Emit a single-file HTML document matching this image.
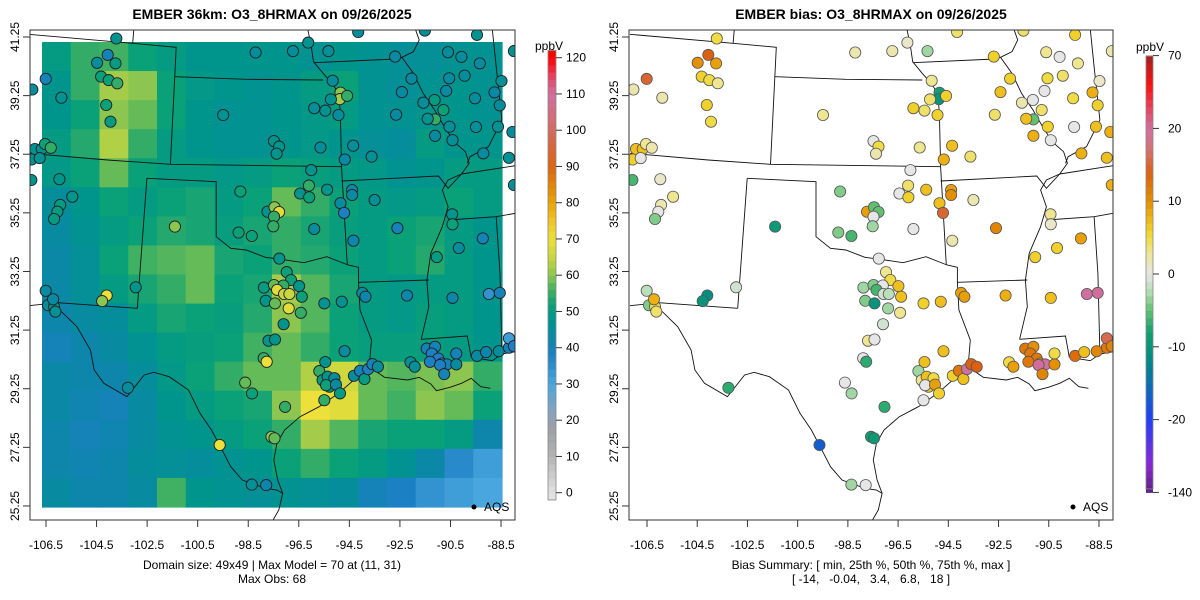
<!DOCTYPE html>
<html><head><meta charset="utf-8"><style>
html,body{margin:0;padding:0;background:#fff;}
svg{display:block;font-family:"Liberation Sans",Arial,sans-serif;}
</style></head><body>
<svg id="chart" width="1200" height="600" viewBox="0 0 1200 600" xmlns="http://www.w3.org/2000/svg">
<defs>
<clipPath id="clipL"><rect x="30" y="30" width="485" height="490"/></clipPath>
<clipPath id="clipR"><rect x="629" y="30" width="484" height="490"/></clipPath>
</defs>
<rect width="1200" height="600" fill="#fff"/>
<text x="272" y="19" text-anchor="middle" font-size="14" font-weight="bold">EMBER 36km: O3_8HRMAX on 09/26/2025</text>
<text x="871" y="19" text-anchor="middle" font-size="14" font-weight="bold">EMBER bias: O3_8HRMAX on 09/26/2025</text>
<g id="gridL" clip-path="url(#clipL)"></g>
<g id="bndL" clip-path="url(#clipL)" fill="none" stroke="#111" stroke-width="0.9"></g>
<g id="bndR" clip-path="url(#clipR)" fill="none" stroke="#111" stroke-width="0.9"></g>
<g id="stL" clip-path="url(#clipL)"></g>
<g id="stR" clip-path="url(#clipR)"></g>
<rect x="30" y="30" width="485" height="490" fill="none" stroke="#333" stroke-width="1"/>
<rect x="629" y="30" width="484" height="490" fill="none" stroke="#333" stroke-width="1"/>
<g id="axes" font-size="12" fill="#000"></g>
<g id="cbL"></g>
<g id="cbR"></g>
<g><circle cx="474" cy="507" r="2.5" fill="#000"/><text x="484" y="511" font-size="12">AQS</text></g>
<g><circle cx="1073" cy="507" r="2.5" fill="#000"/><text x="1083" y="511" font-size="12">AQS</text></g>
<text x="272" y="569" text-anchor="middle" font-size="12">Domain size: 49x49 | Max Model = 70 at (11, 31)</text>
<text x="272" y="583" text-anchor="middle" font-size="12">Max Obs: 68</text>
<text x="871" y="569" text-anchor="middle" font-size="12">Bias Summary: [ min, 25th %, 50th %, 75th %, max ]</text>
<text x="871" y="583" text-anchor="middle" font-size="12" xml:space="preserve">[ -14,   -0.04,   3.4,   6.8,   18 ]</text>
</svg>
<script>
const NS="http://www.w3.org/2000/svg";
const lonTicks=[-106.5,-104.5,-102.5,-100.5,-98.5,-96.5,-94.5,-92.5,-90.5,-88.5];
const latTicks=[41.25,39.25,37.25,35.25,33.25,31.25,29.25,27.25,25.25];
const modelTicks=[0,10,20,30,40,50,60,70,80,90,100,110,120];
const biasTicks=[-140,-20,-10,0,10,20,70];
// model grid (rows north->south, cols west->east), ppbV
const modelGrid=[
[50,55,56,52,50,48,48,48,48,47,48,47,46,46,47,47],
[48,55,62,60,52,49,48,47,48,50,52,47,46,47,48,47],
[48,52,60,58,52,48,47,47,48,49,50,47,47,48,48,47],
[50,54,63,55,50,48,47,47,48,49,48,46,45,50,48,48],
[49,52,58,52,50,50,49,50,52,51,50,49,47,48,50,50],
[45,48,52,50,52,53,50,52,58,55,52,50,49,50,52,50],
[44,47,50,52,54,53,51,53,55,53,51,50,52,53,50,48],
[43,46,52,56,57,58,53,52,55,54,52,50,52,54,50,48],
[43,46,50,53,55,58,52,53,62,57,53,50,49,50,50,48],
[42,44,45,50,53,52,51,54,60,57,52,50,49,51,50,48],
[40,42,44,47,50,51,52,56,58,55,52,51,51,51,50,48],
[43,42,42,45,49,52,55,58,58,63,66,58,57,59,60,55],
[43,41,40,44,48,50,52,53,60,70,68,58,56,60,58,52],
[42,40,41,44,47,48,50,52,55,62,57,53,52,52,50,42],
[42,41,42,45,46,45,47,48,52,55,52,50,47,43,36,32],
[44,42,42,44,56,48,47,46,47,46,45,40,38,34,32,30]];
const stationLon=[
-103.72,-98.21,-96.73,-96.13,-95.33,-94.15,-92.69,-91.51,-89.45,-90.60,-90.07,-89.34,-88.48,-87.99,
-106.51,-107.04,-105.89,-104.48,-104.06,-103.75,-104.32,-104.02,-103.68,-104.12,-103.95,
-99.49,-95.89,-95.45,-94.93,-95.16,-94.85,-94.88,-94.59,-95.23,-92.04,-92.42,-92.65,-90.55,-89.94,-90.67,-89.53,-88.76,-88.55,-91.57,-91.13,-90.78,-91.11,-91.40,-90.54,-89.49,-88.62,-88.05,-91.11,-90.42,
-106.94,-106.67,-106.54,-106.31,-107.07,-106.75,-107.08,-105.97,-105.46,-105.94,-106.05,-106.18,
-97.48,-97.28,-97.38,-95.64,-94.68,-94.35,-93.62,-89.20,-88.19,-87.99,
-96.01,-98.81,-96.45,-96.10,-96.09,-95.38,-94.39,-94.39,-94.85,-94.71,-93.50,-97.74,-97.46,-97.28,-97.48,-97.51,-95.89,-98.88,-98.36,-101.40,-94.34,-92.60,-90.43,-90.42,-89.22,-90.17,-91.04,-97.27,
-96.98,-96.81,-96.49,-96.38,-97.88,-97.48,-97.11,-97.36,-97.08,-96.87,-97.81,-97.44,-96.90,-96.42,-97.10,-95.49,-94.80,-93.99,-93.86,-92.22,-90.42,-88.98,-88.55,
-106.51,-104.10,-104.28,-102.95,-106.42,-106.18,-106.13,-106.22,
-97.70,-97.44,-97.89,-97.77,-94.69,-95.45,-92.08,-91.91,-91.44,-91.11,-91.24,-90.98,-91.31,-90.84,-90.64,-90.91,-90.27,-90.27,-90.75,-89.45,-89.09,-88.59,-88.19,-88.19,-87.99,
-95.69,-95.56,-95.36,-95.09,-95.29,-95.42,-95.03,-94.87,-95.49,-94.32,-94.08,-93.90,-93.76,-93.59,-93.37,
-98.62,-98.35,-103.26,-97.04,-97.58,-97.46,-99.63,-98.36,-97.79];
const stationLat=[
41.20,40.72,40.77,41.06,40.77,41.42,40.58,41.47,41.32,40.73,40.57,40.35,39.75,40.77,
39.82,39.46,39.18,40.37,40.64,40.35,39.90,39.78,39.67,38.93,38.36,
38.59,38.82,38.74,38.59,39.76,39.35,39.13,39.24,39.12,39.83,39.37,38.60,39.84,39.93,39.41,39.16,39.36,38.92,39.01,39.10,38.76,38.44,38.46,38.19,38.18,38.19,38.01,37.88,37.73,
37.43,37.43,37.60,37.47,37.07,37.12,36.37,36.40,35.80,35.52,35.29,35.04,
37.70,37.51,37.27,37.48,37.07,37.54,37.17,37.28,37.13,36.20,
36.71,35.98,35.91,36.18,35.78,36.04,36.03,35.86,35.58,35.25,35.69,35.29,35.44,35.28,35.12,34.79,34.70,34.58,34.46,34.78,34.30,34.73,35.20,34.86,34.38,34.05,33.74,33.69,
33.23,32.96,32.75,32.39,32.70,32.79,32.77,32.62,32.48,32.48,32.25,32.16,31.99,31.84,31.45,32.16,32.22,32.52,32.39,32.43,32.35,32.48,32.52,
32.59,32.43,32.24,32.71,32.10,32.05,31.88,32.30,
30.89,30.93,30.29,30.17,30.53,30.16,30.15,30.00,30.62,30.68,30.45,30.28,30.17,30.11,30.08,30.06,30.45,30.08,29.75,30.37,30.50,30.53,30.65,30.97,30.70,
29.85,29.54,29.66,29.61,29.32,29.37,29.39,29.09,28.86,29.69,29.86,29.58,29.92,30.09,30.00,
29.46,29.09,29.28,28.63,27.61,27.56,27.33,25.98,25.96];
const obsValues=[
47,45,45,47,46,45,44,45,47,45,45,44,46,47,
40,45,47,45,40,50,52,52,55,52,50,
47,46,47,45,45,60,62,55,47,44,44,44,44,45,44,45,43,45,45,50,52,55,47,46,46,47,45,44,46,
47,47,52,55,47,47,48,48,48,50,50,50,
48,48,48,45,43,45,46,44,46,46,
48,52,48,55,52,48,42,44,44,38,46,48,60,68,55,55,45,52,52,60,42,40,48,52,40,45,50,48,
52,52,48,52,50,58,55,68,65,65,48,58,68,55,48,47,47,45,42,42,42,34,40,
44,70,60,48,45,48,47,44,
48,48,55,70,44,48,46,46,40,40,38,38,38,38,40,38,40,44,40,44,42,45,40,32,38,
55,50,48,45,48,52,44,50,55,45,40,50,38,40,45,
58,52,45,55,60,58,70,46,42];
const biasValues=[
5,2,2,1,-3,4,6,4,6,3,0,3,1,2,
15,2,2,10,14,9,6,5,3,6,5,
3,6,4,6,3,-8,-10,6,4,6,7,4,5,4,0,5,8,6,2,0,4,-5,7,6,0,7,8,8,0,
7,7,3,2,6,0,-6,1,3,2,0,-4,
0,5,2,3,8,7,4,8,7,8,
0,-4,0,4,6,7,9,10,7,15,2,9,-5,-5,0,-3,0,-4,-6,-9,2,11,3,1,9,6,6,0,
3,5,7,7,-3,-4,0,-6,-1,-2,-4,-10,-3,3,-1,6,7,9,9,8,7,20,21,
-2,-11,-10,-1,-4,5,4,8,
3,0,0,-7,7,7,5,9,12,10,12,12,12,11,20,21,5,10,11,13,7,11,12,16,11,
-3,3,7,5,6,0,9,6,0,6,12,7,20,14,14,
0,-3,-7,-7,-8,-9,-17,-3,0];

function xL(lon){return 46+(lon+106.5)*25.28;}
function xR(lon){return 647+(lon+106.5)*25.11;}
function yM(lat){return 37+(41.25-lat)*29.31;}

function hex(h){return [parseInt(h.slice(1,3),16),parseInt(h.slice(3,5),16),parseInt(h.slice(5,7),16)];}
function interp(stops,v){
  if(v<=stops[0][0])return stops[0][1];
  for(let i=1;i<stops.length;i++){if(v<=stops[i][0]){const a=stops[i-1],b=stops[i];const t=(v-a[0])/(b[0]-a[0]);const ca=hex(a[1]),cb=hex(b[1]);return 'rgb('+ca.map((c,k)=>Math.round(c+(cb[k]-c)*t)).join(',')+')';}}
  return stops[stops.length-1][1];
}
const modelStops=[[0,'#e2e2e2'],[10,'#b4b4b4'],[18,'#9c9ea4'],[22,'#8aa2bc'],[30,'#4aa6de'],[38,'#1c80c4'],[43,'#0a88a6'],[48,'#00958c'],[52,'#0aa078'],[56,'#40b062'],[60,'#8cc650'],[65,'#c8d640'],[70,'#eee03a'],[75,'#f0c428'],[80,'#e8a400'],[90,'#dc6410'],[100,'#d46a60'],[110,'#d070a0'],[115,'#e84060'],[120,'#ff0000']];
function modelColor(v){return interp(modelStops,v);}
function biasPos(v){if(v>20)return 2+(v-20)/50;if(v<-20)return -2-(-20-v)/120;return v/10;}
const biasStops=[[-3,'#602080'],[-2.6,'#8a28d8'],[-2,'#2040f8'],[-1.5,'#0a70b0'],[-1.2,'#008888'],[-0.8,'#10a070'],[-0.5,'#60c070'],[-0.25,'#b0dcb0'],[0,'#e6e6e6'],[0.3,'#eee690'],[0.55,'#f0d830'],[0.8,'#eeb010'],[1.0,'#e49000'],[1.4,'#dc6010'],[1.7,'#d47070'],[2.0,'#d070a0'],[2.3,'#e84058'],[2.6,'#ff1010'],[3,'#a02020']];
function biasColor(v){return interp(biasStops,biasPos(v));}
function biasY(v){return 274-biasPos(v)*72.8;}
function modelY(v){return 492.7-v*3.625;}

function el(tag,attrs,parent){const e=document.createElementNS(NS,tag);for(const k in attrs)e.setAttribute(k,attrs[k]);parent.appendChild(e);return e;}

const gL=document.getElementById('gridL');
const gx0=42,gx1=502,gy0=42,gy1=507;
const nr=modelGrid.length,nc=modelGrid[0].length;
const cw=(gx1-gx0)/nc,ch=(gy1-gy0)/nr;
modelGrid.forEach((row,r)=>row.forEach((v,c)=>{
  const e=el('rect',{x:(gx0+c*cw).toFixed(2),y:(gy0+r*ch).toFixed(2),width:(cw+0.6).toFixed(2),height:(ch+0.6).toFixed(2),fill:modelColor(v)},gL);
  
  
}));

const boundaryPaths=[
[[75,43],[345,70],[458,82],[443,433]],
[[348,28],[345,70]],
[[455,170],[640,178],[840,180]],
[[800,28],[808,70],[815,125],[840,160],[862,188],[872,205],[882,240],[885,280],[888,440],[903,735]],
[[815,128],[1030,117],[1045,112]],
[[1080,28],[1090,60],[1075,95],[1045,112],[1075,160],[1100,220],[1130,270],[1160,330],[1185,370],[1210,395],[1220,430],[1200,462],[1165,480],[1150,510],[1165,560],[1150,620],[1120,700],[1110,780],[1115,860],[1095,958]],
[[1095,958],[1215,948],[1225,1012]],
[[1280,28],[1290,140],[1305,300],[1270,380],[1222,410],[1215,430]],
[[1200,462],[1340,437]],
[[888,483],[1140,468],[1165,505],[1200,462]],
[[1165,600],[1290,590],[1340,580]],
[[1290,590],[1300,760],[1305,1000]],
[[75,400],[280,420],[443,433],[888,440]],
[[382,475],[562,485],[562,650],[600,685],[640,690],[690,712],[730,718],[790,728],[850,710],[905,735],[932,742]],
[[932,742],[932,787],[1115,780]],
[[932,787],[936,870],[966,960],[960,1040]],
[[382,475],[357,865]],
[[75,857],[150,848],[357,865]],
[[120,855],[160,875],[200,920],[235,990],[245,1050],[270,1090],[330,1130],[375,1065],[400,1057],[440,1070],[490,1110],[520,1180],[550,1230],[575,1285],[600,1340],[630,1380],[690,1405],[720,1410],[735,1420],[725,1470],[710,1500]],
[[960,1040],[920,1080],[880,1120],[830,1160],[780,1190],[740,1230],[720,1270],[712,1320],[722,1380],[735,1420]],
[[960,1040],[1000,1072],[1060,1080],[1090,1072],[1120,1092],[1135,1112],[1170,1102],[1200,1090],[1225,1075],[1250,1100],[1275,1105]],
[[1225,1012],[1280,1022],[1305,1002],[1340,995]]];
function zx(X){return X/2.6;} function zy(Y){return Y/3+20;}
const bL=document.getElementById('bndL'),bR=document.getElementById('bndR');
boundaryPaths.forEach(p=>{
  const dL='M'+p.map(q=>zx(q[0]).toFixed(1)+','+zy(q[1]).toFixed(1)).join('L');
  const dR='M'+p.map(q=>(647+(zx(q[0])-46)*25.11/25.28).toFixed(1)+','+zy(q[1]).toFixed(1)).join('L');
  const a=el('path',{d:dL},bL);
  
  
  const b=el('path',{d:dR},bR);
  
  
});

const sL=document.getElementById('stL'),sR=document.getElementById('stR');
stationLon.forEach((lon,i)=>{
  const lat=stationLat[i];
  const a=el('circle',{cx:xL(lon).toFixed(1),cy:yM(lat).toFixed(1),r:5.6,fill:modelColor(obsValues[i]),stroke:'#222','stroke-width':0.9},sL);
  
  
  const b=el('circle',{cx:xR(lon).toFixed(1),cy:yM(lat).toFixed(1),r:5.6,fill:biasColor(biasValues[i]),stroke:'#555','stroke-width':0.8},sR);
  
  
});

const ax=document.getElementById('axes');
[[xL,30,'left'],[xR,629,'right']].forEach(([fx,fl,side])=>{
  lonTicks.forEach(t=>{
    const x=fx(t);
    const l=el('line',{x1:x,y1:520,x2:x,y2:527,stroke:'#333'},ax);
    
    
    const tx=el('text',{x:x,y:549,'text-anchor':'middle'},ax);
    tx.textContent=t.toFixed(1);
    
    
  });
  latTicks.forEach(t=>{
    const y=yM(t);
    const l=el('line',{x1:fl,y1:y,x2:fl-7,y2:y,stroke:'#333'},ax);
    
    
    const tx=el('text',{x:fl-11,y:y,'text-anchor':'middle',transform:'rotate(-90 '+(fl-11)+' '+y+')'},ax);
    tx.textContent=t.toFixed(2);
    
    
  });
});

const cL=document.getElementById('cbL');
for(let v=-2;v<122;v+=2){
  const r=el('rect',{x:548,y:modelY(v+2).toFixed(2),width:8,height:(3.625*2+0.5).toFixed(2),fill:modelColor(v+1)},cL);
  
  
}
el('rect',{x:548,y:modelY(122),width:8,height:(modelY(-2)-modelY(122)),fill:'none',stroke:'#888','stroke-width':0.8},cL);
modelTicks.forEach(t=>{
  const y=modelY(t);
  el('line',{x1:556,y1:y,x2:562,y2:y,stroke:'#333'},cL);
  const tx=el('text',{x:566,y:y+4,'font-size':12},cL);
  tx.textContent=t;
  
  
});
const uL=el('text',{x:549,y:50,'font-size':12,'text-anchor':'middle'},cL);uL.textContent='ppbV';



const cR=document.getElementById('cbR');
for(let p=-3;p<3;p+=0.1){
  const r=el('rect',{x:1146,y:(274-(p+0.1)*72.8).toFixed(2),width:7,height:(7.28+0.5).toFixed(2),fill:interp(biasStops,p+0.05)},cR);
  
  
}
el('rect',{x:1146,y:274-3*72.8+0.5,width:7,height:6*72.8-4,fill:'none',stroke:'#888','stroke-width':0.8},cR);
biasTicks.forEach(t=>{
  const y=biasY(t);
  el('line',{x1:1153,y1:y,x2:1159,y2:y,stroke:'#333'},cR);
  const tx=el('text',{x:1168,y:y+4,'font-size':12},cR);
  tx.textContent=t;
  
  
});
const uR=el('text',{x:1150,y:51,'font-size':12,'text-anchor':'middle'},cR);uR.textContent='ppbV';


</script>
</body></html>
